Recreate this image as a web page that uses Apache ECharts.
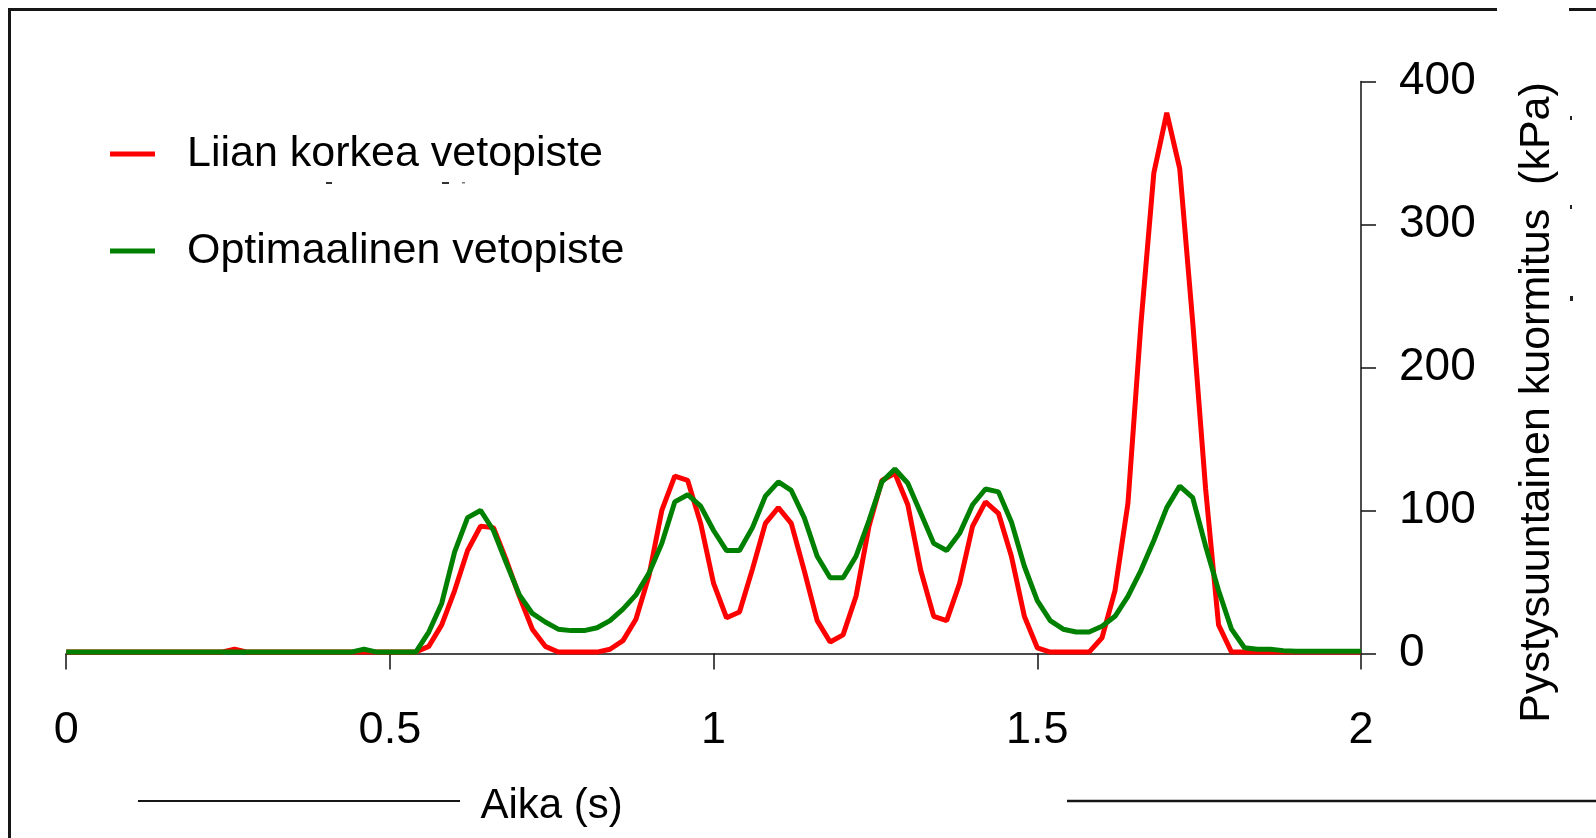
<!DOCTYPE html>
<html>
<head>
<meta charset="utf-8">
<script src="https://cdn.jsdelivr.net/npm/echarts@6/dist/echarts.min.js"></script>
<style>
  html, body { margin: 0; padding: 0; background: #fff; }
  #chart { width: 1596px; height: 838px; }
</style>
</head>
<body>
<div id="chart"></div>
<script>
// Vertical pressure under the track, sampled every 0.02 s from 0 to 2 s
const SAMPLE_STEP = 0.02;
const seriesNames = ['Liian korkea vetopiste', 'Optimaalinen vetopiste'];
const xTicks = [0, 0.5, 1, 1.5, 2];
const yTicks = [0, 100, 200, 300, 400];

const highPull = [
  1, 1, 1, 1, 1, 1, 1, 1, 1, 1,
  1, 1, 1, 3, 1, 1, 1, 1, 1, 1,
  1, 1, 1, 1, 1, 1, 1, 1, 5, 20,
  44, 72, 89, 88, 65, 40, 17, 5, 1, 1,
  1, 1, 3, 9, 24, 54, 100, 124, 121, 91,
  49, 25, 29, 59, 91, 102, 91, 58, 23, 8,
  13, 40, 89, 121, 126, 104, 58, 26, 23, 49,
  89, 106, 98, 68, 26, 4, 1, 1, 1, 1,
  11, 44, 105, 230, 336, 378, 339, 232, 115, 20,
  1, 1, 1, 1, 1, 1, 1, 1, 1, 1,
  1
];

const optimalPull = [
  1, 1, 1, 1, 1, 1, 1, 1, 1, 1,
  1, 1, 1, 1, 1, 1, 1, 1, 1, 1,
  1, 1, 1, 3, 1, 1, 1, 1, 15, 35,
  71, 95, 100, 86, 63, 41, 28, 22, 17, 16,
  16, 18, 23, 31, 41, 56, 77, 106, 111, 103,
  86, 72, 72, 88, 110, 120, 114, 95, 68, 53,
  53, 68, 93, 120, 129, 119, 98, 77, 72, 84,
  104, 115, 113, 92, 61, 37, 23, 17, 15, 15,
  19, 26, 40, 58, 79, 102, 117, 109, 75, 44,
  17, 4, 3, 3, 2, 1.5, 1.5, 1.5, 1.5, 1.5,
  1.5
];

const FONT = '"Liberation Sans", Arial, Helvetica, sans-serif';
const toPairs = (vals) => vals.map((v, i) => [+(i * SAMPLE_STEP).toFixed(2), v]);

const chart = echarts.init(document.getElementById('chart'), null, { renderer: 'canvas' });

const frameLine = (x1, y1, x2, y2, w) => ({
  type: 'line',
  silent: true,
  shape: { x1, y1, x2, y2 },
  style: { stroke: '#161616', lineWidth: w }
});

chart.setOption({
  animation: false,
  backgroundColor: '#ffffff',
  textStyle: { fontFamily: FONT, color: '#000' },
  grid: { left: 66.2, right: 235, top: 81.4, bottom: 184.5, containLabel: false },
  legend: {
    orient: 'vertical',
    left: 110,
    top: 121,
    padding: 0,
    itemGap: 31,
    itemWidth: 45,
    itemHeight: 5,
    icon: 'rect',
    selectedMode: false,
    data: [
      { name: seriesNames[0], textStyle: { padding: [0, 0, 18, 27] } },
      { name: seriesNames[1], textStyle: { padding: [10, 0, 8, 27] } }
    ],
    textStyle: { fontFamily: FONT, fontSize: 43, lineHeight: 48, color: '#000' }
  },
  xAxis: {
    type: 'value',
    min: xTicks[0],
    max: xTicks[xTicks.length - 1],
    interval: 0.5,
    name: 'Aika (s)',
    nameLocation: 'middle',
    nameGap: 132,
    nameTextStyle: { fontFamily: FONT, fontSize: 42, lineHeight: 42, color: '#000', padding: [0, 324, 0, 0] },
    axisLine: { show: true, onZero: false, lineStyle: { color: '#111', width: 1.5 } },
    axisTick: { show: true, inside: false, length: 16, lineStyle: { color: '#111', width: 1.5 } },
    axisLabel: { margin: 55, fontFamily: FONT, fontSize: 45, lineHeight: 45, color: '#000', formatter: (v) => String(v) },
    splitLine: { show: false }
  },
  yAxis: {
    type: 'value',
    position: 'right',
    min: yTicks[0],
    max: yTicks[yTicks.length - 1],
    interval: 100,
    name: 'Pystysuuntainen kuormitus  (kPa)',
    nameLocation: 'middle',
    nameRotate: 90,
    nameGap: 155,
    nameTextStyle: { fontFamily: FONT, fontSize: 43, lineHeight: 42, color: '#000', padding: [0, 70, 0, 0] },
    axisLine: { show: true, onZero: false, lineStyle: { color: '#111', width: 1.5 } },
    axisTick: { show: true, inside: false, length: 15, lineStyle: { color: '#111', width: 1.5 } },
    axisLabel: { margin: 38, fontFamily: FONT, fontSize: 46, color: '#000' },
    splitLine: { show: false }
  },
  series: [
    {
      name: seriesNames[0],
      type: 'line',
      data: toPairs(highPull),
      symbol: 'none',
      color: '#ff0000',
      lineStyle: { color: '#ff0000', width: 5 },
      z: 2
    },
    {
      name: seriesNames[1],
      type: 'line',
      data: toPairs(optimalPull),
      symbol: 'none',
      color: '#008000',
      lineStyle: { color: '#008000', width: 5 },
      z: 3
    }
  ],
  graphic: [
    // page frame
    frameLine(8, 9.5, 1497, 9.5, 3),
    frameLine(1569, 9.5, 1596, 9.5, 3),
    frameLine(9.5, 8, 9.5, 838, 3),
    // rules either side of the time caption
    frameLine(138, 801, 460, 801, 2),
    frameLine(1067, 801, 1596, 801, 2.5),
    // stray glyph fragments
    { type: 'rect', silent: true, shape: { x: 326, y: 182, width: 6, height: 2 }, style: { fill: '#333' } },
    { type: 'rect', silent: true, shape: { x: 442, y: 182, width: 7, height: 2 }, style: { fill: '#333' } },
    { type: 'rect', silent: true, shape: { x: 462, y: 182, width: 3, height: 1.5 }, style: { fill: '#777' } },
    { type: 'rect', silent: true, shape: { x: 1570, y: 116, width: 2, height: 4 }, style: { fill: '#222' } },
    { type: 'rect', silent: true, shape: { x: 1570, y: 205, width: 2, height: 4 }, style: { fill: '#222' } },
    { type: 'rect', silent: true, shape: { x: 1570, y: 296, width: 3, height: 5 }, style: { fill: '#222' } }
  ]
});
</script>
</body>
</html>
